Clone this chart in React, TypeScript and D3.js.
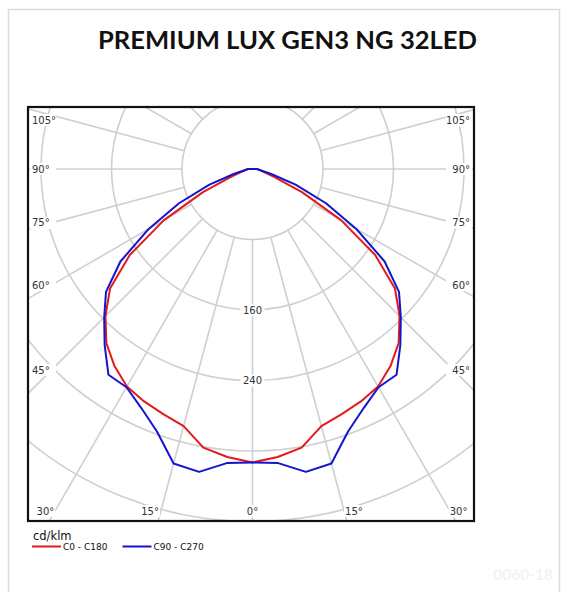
import React from 'react';
import * as d3 from 'd3';

// gamma angles (deg from nadir) and intensities in cd/klm
const gammaAngles = [0, 5, 10, 15, 20, 25, 30, 35, 40, 45, 50, 55, 60, 65, 70, 75, 80, 85, 90];
const c0c180 = [333, 328, 321, 302, 296, 291, 285, 273, 258, 236, 211, 170, 116, 62, 26, 13, 9, 7, 5];
const c90c270 = [333, 335, 349, 346, 317, 299, 286, 285, 261, 238, 217, 183, 136, 92, 52, 22, 10, 6.5, 5];

const ringValues = [80, 160, 240, 320, 400, 480];
const ringLabels = [160, 240];
const spokeAngles = d3.range(0, 360, 15);
const sideLabels = [105, 90, 75, 60, 45];
const bottomLabels = [30, 15, 0];

const series = [
  { name: 'C0 - C180', values: c0c180, color: '#e31a1c' },
  { name: 'C90 - C270', values: c90c270, color: '#1414cc' },
];

const W = 569;
const H = 592;
const cx = 252.5;
const cy = 169;
const box = { x0: 28, y0: 107, x1: 474, y1: 521 };
const font = '"DejaVu Sans", Verdana, sans-serif';

const r = d3.scaleLinear().domain([0, 160]).range([0, 141]);
const rad = (deg: number) => (deg * Math.PI) / 180;

export default function App() {
  const line = d3
    .lineRadial<[number, number]>()
    .angle((d) => d[0])
    .radius((d) => r(d[1]));

  const profile = (vals: number[]): [number, number][] => {
    const left = gammaAngles.map((a, i) => [Math.PI + rad(a), vals[i]] as [number, number]).reverse();
    const right = gammaAngles.map((a, i) => [Math.PI - rad(a), vals[i]] as [number, number]);
    return [...left, ...right];
  };

  const rIn = r(80);
  const rOut = 700;

  const labelBg = (x: number, y: number, w: number, h = 12) => (
    <rect x={x} y={y - h / 2} width={w} height={h} fill="#fff" />
  );

  return (
    <svg
      width={W}
      height={H}
      style={{ position: 'absolute', left: 0, top: 0, background: '#fff' }}
    >
      <defs>
        <clipPath id="plotClip">
          <rect x={box.x0} y={box.y0} width={box.x1 - box.x0} height={box.y1 - box.y0} />
        </clipPath>
      </defs>
      <rect x={8.5} y={9.5} width={551} height={600} fill="#fff" stroke="#dcdcdc" strokeWidth={1.5} />

      <text
        x={287.5}
        y={49}
        textAnchor="middle"
        fontFamily="Lato, 'Open Sans', sans-serif"
        fontWeight={700}
        fontSize={25.6}
        fill="#111"
      >
        PREMIUM LUX GEN3 NG 32LED
      </text>

      <g clipPath="url(#plotClip)">
        <rect x={box.x0} y={box.y0} width={box.x1 - box.x0} height={box.y1 - box.y0} fill="#fff" />
        <g transform={`translate(${cx},${cy})`} stroke="#cfcfcf" strokeWidth={1.6} fill="none">
          {ringValues.map((v) => (
            <circle key={v} r={r(v)} />
          ))}
          {spokeAngles.map((a) => (
            <line
              key={a}
              x1={rIn * Math.sin(rad(a))}
              y1={rIn * Math.cos(rad(a))}
              x2={rOut * Math.sin(rad(a))}
              y2={rOut * Math.cos(rad(a))}
            />
          ))}
        </g>

        {/* ring value labels */}
        {ringLabels.map((v) => (
          <g key={v}>
            {labelBg(cx - 12, cy + r(v), 24)}
            <text x={cx} y={cy + r(v)} dy="0.35em" textAnchor="middle" fontFamily={font} fontSize={10} fill="#333">
              {v}
            </text>
          </g>
        ))}

        {/* side angle labels */}
        {sideLabels.map((a) => {
          const dy = a === 90 ? 0 : 201 / Math.tan(rad(a));
          const y = Math.max(box.y0 + 13, cy + dy);
          return (
            <g key={a}>
              {labelBg(box.x0 + 2, y, 26)}
              <text x={box.x0 + 4} y={y} dy="0.35em" fontFamily={font} fontSize={10} fill="#333">
                {a}°
              </text>
              {labelBg(box.x1 - 28, y, 26)}
              <text x={box.x1 - 4} y={y} dy="0.35em" textAnchor="end" fontFamily={font} fontSize={10} fill="#333">
                {a}°
              </text>
            </g>
          );
        })}

        {/* bottom angle labels */}
        {bottomLabels.map((a) => {
          const y = box.y1 - 10;
          const off = 338 * Math.tan(rad(a));
          if (a === 0) {
            return (
              <g key={a}>
                {labelBg(cx - 8, y, 16)}
                <text x={cx} y={y} dy="0.35em" textAnchor="middle" fontFamily={font} fontSize={10} fill="#333">
                  0°
                </text>
              </g>
            );
          }
          return (
            <g key={a}>
              {labelBg(cx - off - 22, y, 20)}
              <text x={cx - off - 3} y={y} dy="0.35em" textAnchor="end" fontFamily={font} fontSize={10} fill="#333">
                {a}°
              </text>
              {labelBg(cx + off + 1, y, 20)}
              <text x={cx + off + 2} y={y} dy="0.35em" fontFamily={font} fontSize={10} fill="#333">
                {a}°
              </text>
            </g>
          );
        })}

        <g transform={`translate(${cx},${cy})`}>
          {series.map((s) => (
            <path
              key={s.name}
              d={(line(profile(s.values)) || '') + 'Z'}
              fill="none"
              stroke={s.color}
              strokeWidth={2}
              strokeLinejoin="round"
            />
          ))}
        </g>
      </g>
      <rect
        x={box.x0}
        y={box.y0}
        width={box.x1 - box.x0}
        height={box.y1 - box.y0}
        fill="none"
        stroke="#111"
        strokeWidth={2.2}
      />

      {/* legend */}
      <text x={33} y={540} fontFamily={font} fontSize={11.5} fill="#111">
        cd/klm
      </text>
      {series.map((s, i) => {
        const x = 32 + i * 90.5;
        return (
          <g key={s.name}>
            <line x1={x} x2={x + 29} y1={546.5} y2={546.5} stroke={s.color} strokeWidth={2} />
            <text x={x + 31} y={546.5} dy="0.35em" fontFamily={font} fontSize={9} fill="#111">
              {s.name}
            </text>
          </g>
        );
      })}

      <text x={553} y={580} textAnchor="end" fontFamily="Lato, sans-serif" fontWeight={700} fontSize={15.5} fill="#f3f3f3">
        0060-18
      </text>
    </svg>
  );
}
